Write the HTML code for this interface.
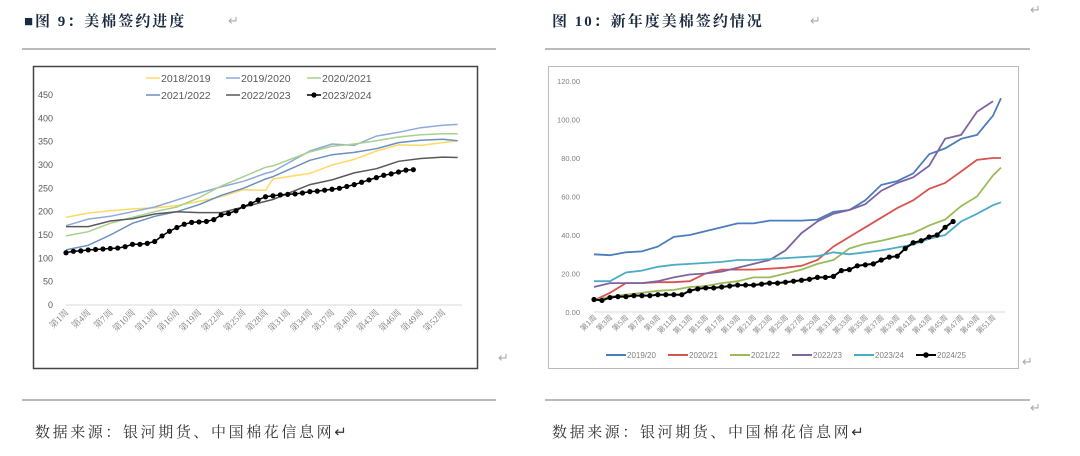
<!DOCTYPE html>
<html><head><meta charset="utf-8"><style>
body{margin:0;background:#fff;width:1080px;height:456px;overflow:hidden;}
svg{display:block;font-family:"Liberation Sans","Noto Sans CJK SC",sans-serif;}
.ttl{font-family:"Liberation Serif","Noto Serif CJK SC",serif;font-weight:bold;font-size:15px;fill:#1a2a40;letter-spacing:2px;}
.src{font-family:"Liberation Serif","Noto Serif CJK SC",serif;font-size:15px;fill:#333;letter-spacing:2.6px;}
.ret{font-size:13px;fill:#aaa;}
</style></head><body>
<svg id="page" width="1080" height="456">
<text class="ttl" x="24" y="26">■图 9：美棉签约进度</text>
<text class="ret" x="228" y="25">↵</text>
<text class="ttl" x="552" y="26">图 10：新年度美棉签约情况</text>
<text class="ret" x="810" y="25">↵</text>
<text class="ret" x="1030" y="14">↵</text>
<line x1="22" y1="49" x2="496" y2="49" stroke="#777"/>
<line x1="545" y1="49" x2="1030" y2="49" stroke="#777"/>
<line x1="22" y1="400" x2="496" y2="400" stroke="#777"/>
<line x1="545" y1="400" x2="1030" y2="400" stroke="#777"/>
<text class="src" x="35" y="437">数据来源：银河期货、中国棉花信息网↵</text>
<text class="src" x="552" y="437">数据来源：银河期货、中国棉花信息网↵</text>
<text class="ret" x="498" y="362">↵</text>
<text class="ret" x="1022" y="366">↵</text>
<text class="ret" x="1030" y="412">↵</text>
<rect x="33.5" y="66.5" width="444" height="302" fill="#fff" stroke="#444" stroke-width="1.5"/>
<rect x="548.5" y="66.5" width="470" height="302" fill="#fff" stroke="#bbb" stroke-width="1"/>
<g id="c1"></g><g id="c2"></g>
</svg>
<script>
// ---------- Chart 9 data ----------
const c1Weeks=[1,4,7,10,13,16,19,22,25,28,29,34,37,40,43,46,49,52,54];
const c1Names=["2018/2019","2019/2020","2020/2021","2021/2022","2022/2023"];
const c1Colors=["#ffd966","#8eaadb","#a9d18e","#6a8fbf","#595959"];
const s2018=[188,197,202,206,208,213,222,232,247,246,270,282,300,312,330,343,342,348,352];
const s2019=[170,184,190,200,210,225,240,253,265,282,286,330,345,342,362,370,380,385,387];
const s2020=[148,157,175,188,200,210,230,255,275,295,298,328,340,345,352,360,365,367,367];
const s2021=[118,128,150,175,190,200,215,235,250,270,275,310,322,327,335,348,353,355,352];
const s2022=[168,168,180,185,195,200,198,198,210,222,226,258,268,283,292,308,314,317,316];
const s2023=[112,115,116,118,119,120,121,122,125,130,130,132,136,148,158,166,173,177,178,179,183,193,196,202,211,217,225,232,234,236,237,238,240,243,244,246,248,250,254,258,263,268,273,278,281,285,289,290];
const c1Ticks=[0,50,100,150,200,250,300,350,400,450];
const c1XLabels=["第1周","第4周","第7周","第10周","第13周","第16周","第19周","第22周","第25周","第28周","第31周","第34周","第37周","第40周","第43周","第46周","第49周","第52周"];
// ---------- Chart 10 data ----------
const c2Weeks=[1,3,5,7,9,11,13,15,17,19,21,23,25,27,29,31,33,35,37,39,41,43,45,47,49,51,52];
const c2Names=["2019/20","2020/21","2021/22","2022/23","2023/24"];
const c2Colors=["#4a7ebb","#d9534f","#9bbb59","#8064a2","#4bacc6"];
const t2019=[30,29.5,31,31.5,34,39,40,42,44,46,46,47.5,47.5,47.5,48,52,53,58,66,68,72,82,85,90,92,102,111];
const t2020=[6,10,15,15,15.5,15.5,16,20,22,22,22,22.5,23,24,27,34,39,44,49,54,58,64,67,73,79,80,80];
const t2021=[6,8,9,10,11,11.5,13,13.5,15,16,18,18,20,22,25,27,33,35.5,37,39,41,45,48,55,60,71,75];
const t2022=[13,15,15,15,16,18,19.5,20,21,23,25,27,32,41,47,51,53,56,63,67,70,76,90,92,104,109.5,null];
const t2023=[16,16,20.5,21.5,23.5,24.5,25,25.5,26,27,27,27.5,28,28.5,29,31,30,31,32,33.5,35,38,40,47,51,55.5,57];
const t2024=[6.5,6,7.5,8,8,8.5,8.5,8.5,9,9,9,9,11,12,12.5,12.5,13,13.5,14,14,14,14.5,15,15,15.5,16,16.5,17,18,18,18.5,21.5,22,24,24.5,25,27,28.5,29,33,36,37,39,40,44,47];
const c2Ticks=[0,20,40,60,80,100,120];
const c2XLabels=["第1周","第3周","第5周","第7周","第9周","第11周","第13周","第15周","第17周","第19周","第21周","第23周","第25周","第27周","第29周","第31周","第33周","第35周","第37周","第39周","第41周","第43周","第45周","第47周","第49周","第51周"];

const NS="http://www.w3.org/2000/svg";
function mk(parent,tag,attrs,txt){const e=document.createElementNS(NS,tag);for(const k in attrs)e.setAttribute(k,attrs[k]);if(txt!==undefined)e.textContent=txt;parent.appendChild(e);return e;}

// chart 9 axes
const x1=w=>66+(w-1)*7.39, y1=v=>305-v*(210/450);
const g1=document.getElementById('c1');
let ax=mk(g1,'line',{x1:66,y1:305,x2:462,y2:305,stroke:'#d9d9d9'});

c1Ticks.forEach(t=>{const e=mk(g1,'text',{x:53,y:y1(t)+3,'text-anchor':'end','font-size':9,fill:'#595959'},t);
});
c1XLabels.forEach((l,i)=>{const xx=x1(1+i*3)+3,yy=313;const e=mk(g1,'text',{x:xx,y:yy,'text-anchor':'end','font-size':9,fill:'#7f7f7f',transform:`rotate(-45 ${xx} ${yy})`,'font-family':'"Liberation Serif","Noto Serif CJK SC",serif'},l);
});
[s2018,s2019,s2020,s2021,s2022].forEach((s,i)=>{const p=s.map((v,j)=>`${x1(c1Weeks[j]).toFixed(1)},${y1(v).toFixed(1)}`).join(' ');
const e=mk(g1,'polyline',{points:p,fill:'none',stroke:c1Colors[i],'stroke-width':1.5});
});
{const p=s2023.map((v,j)=>`${x1(j+1).toFixed(1)},${y1(v).toFixed(1)}`).join(' ');
const e=mk(g1,'polyline',{points:p,fill:'none',stroke:'#000','stroke-width':1.5});

s2023.forEach((v,j)=>{const c=mk(g1,'circle',{cx:x1(j+1),cy:y1(v),r:2.6,fill:'#000'});
});}
// chart9 legend
const leg1=[[146,81,0],[226,81,1],[307,81,2],[146,98,3],[226,98,4],[307,98,5]];
const legNames1=c1Names.concat(["2023/2024"]),legCols1=c1Colors.concat(["#000"]);
leg1.forEach(([lx,ly,i])=>{const g=mk(g1,'g',{});

mk(g,'line',{x1:lx,y1:ly-3,x2:lx+14,y2:ly-3,stroke:legCols1[i],'stroke-width':1.5});
if(i===5)mk(g,'circle',{cx:lx+7,cy:ly-3,r:2.6,fill:'#000'});
mk(g,'text',{x:lx+15,y:ly+1,'font-size':10.5,fill:'#595959'},legNames1[i]);});

// chart 10
const x2=w=>594+(w-1)*7.98, y2=v=>312-v*(231/120);
const g2=document.getElementById('c2');
ax=mk(g2,'line',{x1:594,y1:312,x2:1005,y2:312,stroke:'#d9d9d9'});

c2Ticks.forEach(t=>{const e=mk(g2,'text',{x:580,y:y2(t)+3,'text-anchor':'end','font-size':7.5,fill:'#7f7f7f'},t.toFixed(2));
});
c2XLabels.forEach((l,i)=>{const xx=x2(1+i*2)+3,yy=318;const e=mk(g2,'text',{x:xx,y:yy,'text-anchor':'end','font-size':7.5,fill:'#8f8f8f',transform:`rotate(-45 ${xx} ${yy})`},l);
});
[t2019,t2020,t2021,t2022,t2023].forEach((s,i)=>{const p=s.map((v,j)=>v==null?null:`${x2(c2Weeks[j]).toFixed(1)},${y2(v).toFixed(1)}`).filter(Boolean).join(' ');
const e=mk(g2,'polyline',{points:p,fill:'none',stroke:c2Colors[i],'stroke-width':1.8});
});
{const p=t2024.map((v,j)=>`${x2(j+1).toFixed(1)},${y2(v).toFixed(1)}`).join(' ');
const e=mk(g2,'polyline',{points:p,fill:'none',stroke:'#000','stroke-width':2});

t2024.forEach((v,j)=>{const c=mk(g2,'circle',{cx:x2(j+1),cy:y2(v),r:2.6,fill:'#000'});
});}
const legNames2=c2Names.concat(["2024/25"]),legCols2=c2Colors.concat(["#000"]);
[606,668,730,792,854,916].forEach((lx,i)=>{const g=mk(g2,'g',{});

mk(g,'line',{x1:lx,y1:355,x2:lx+20,y2:355,stroke:legCols2[i],'stroke-width':2});
if(i===5)mk(g,'circle',{cx:lx+10,cy:355,r:2.8,fill:'#000'});
mk(g,'text',{x:lx+21,y:358,'font-size':8,fill:'#7f7f7f'},legNames2[i]);});
</script>
</body></html>
